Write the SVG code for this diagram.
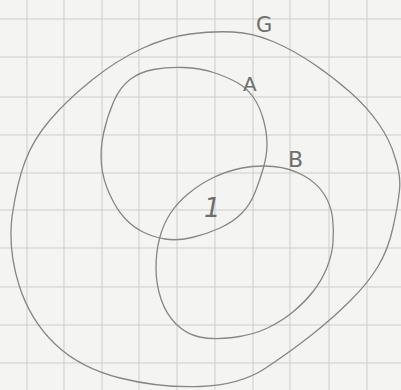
<svg xmlns="http://www.w3.org/2000/svg" width="401" height="390" viewBox="0 0 401 390">
<style>
.grid{stroke:#cdcdcb;stroke-width:1;fill:none}
.set{fill:none;stroke:#868686;stroke-width:1.3;stroke-linecap:round;stroke-linejoin:round}
.lbl{font-family:"DejaVu Sans","Liberation Sans",sans-serif;fill:#6e6e6e}
</style>
<rect width="401" height="390" fill="#f4f4f2"/>
<g id="grid" class="grid">
<path d="M27 0V390M64 0V390M102 0V390M139 0V390M177 0V390M215 0V390M253 0V390M290 0V390M329 0V390M367 0V390"/>
<path d="M0 19H401M0 57H401M0 97H401M0 135H401M0 173H401M0 210H401M0 248H401M0 287H401M0 325H401M0 363H401"/>
</g>
<g id="G">
<path class="set" d="M 233 32 Q 253 33 273 41.5 Q 293 50 313 63.5 Q 333 77 350 92 Q 367 107 378.5 123.5 Q 390 140 395 157.5 Q 401 175 399.5 190 Q 398 205 393 227.5 Q 388 250 378 266.5 Q 368 283 350.5 300.5 Q 333 318 311.5 335 Q 290 352 265 368.5 Q 240 385 200 386.5 Q 160 388 120 378 Q 80 368 55 344 Q 30 320 19 285 Q 8 250 12 216.5 Q 17 183 25 161.5 Q 33 140 50 120 Q 67 100 92 80 Q 117 60 142 48.5 Q 167 37 190 34 Q 213 31 233 32 Z"/>
<text class="lbl" x="256" y="32" font-size="21">G</text>
</g>
<g id="A">
<path class="set" d="M 103.5 133.5 Q 107 117 113.5 102 Q 120 87 130 79.5 Q 140 72 153.5 69.5 Q 167 67 183.5 67.5 Q 200 68 213.5 72.5 Q 227 77 237 82.5 Q 247 88 253.5 97.5 Q 260 107 263.5 120 Q 267 133 267 144 Q 267 155 263.5 167.5 Q 260 180 255 192.5 Q 250 205 241.5 213.5 Q 233 222 220 228 Q 207 234 192 237.5 Q 177 241 165 239 Q 153 237 143 232 Q 133 227 125 218.5 Q 117 210 110 195 Q 103 180 101.5 165 Q 100 150 103.5 133.5 Z"/>
<text class="lbl" x="243" y="91" font-size="20">A</text>
</g>
<g id="B">
<path class="set" d="M 273.5 166.5 Q 290 168 303.5 175.5 Q 317 183 324 194 Q 331 205 332.5 217.5 Q 334 230 333 242.5 Q 332 255 327 267.5 Q 322 280 313.5 291 Q 305 302 293.5 311.5 Q 282 321 267.5 328 Q 253 335 233 337.5 Q 213 340 199.5 337 Q 186 334 176 324 Q 166 314 161 299 Q 156 284 156 268 Q 156 252 159.5 238.5 Q 163 225 170 214 Q 177 203 188.5 193.5 Q 200 184 213.5 177.5 Q 227 171 242 168 Q 257 165 273.5 166.5 Z"/>
<text class="lbl" x="288" y="167" font-size="22">B</text>
</g>
<g id="intersection">
<text class="lbl" x="204" y="217" font-size="26" font-style="italic" fill="#555555">1</text>
</g>
</svg>
